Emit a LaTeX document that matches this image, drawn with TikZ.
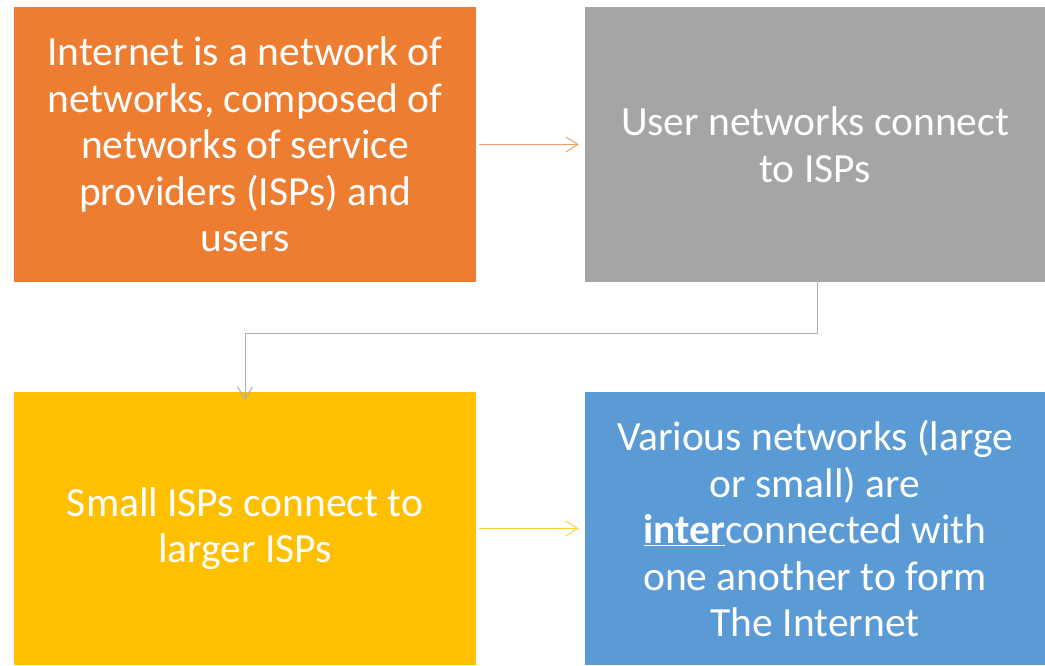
\documentclass[tikz,border=0pt]{standalone}
\usepackage{fontspec}
\setmainfont{Carlito}
\usetikzlibrary{arrows.meta}
\definecolor{corange}{HTML}{ED7D31}
\definecolor{cgray}{HTML}{A5A5A5}
\definecolor{cyellow}{HTML}{FFC000}
\definecolor{cblue}{HTML}{5B9BD5}
\begin{document}
\begin{tikzpicture}[x=1pt,y=-1pt,
  box/.style={minimum width=462pt,minimum height=275pt,inner sep=0pt,
    text=white,align=center,font=\fontsize{41.5}{46.5}\selectfont},
  conn/.style={line width=1pt,-{Straight Barb[length=12pt,width=15pt]}}]
\useasboundingbox (0,0) rectangle (1045,665);
\node[box,fill=corange] (a) at (245,144.5) {Internet is a network of\\networks, composed of\\networks of service\\providers (ISPs) and\\users};
\node[box,fill=cgray,minimum width=460pt] (b) at (815,144.5) {User networks connect\\to ISPs};
\node[box,fill=cyellow,minimum height=273pt] (c) at (245,528.5) {Small ISPs connect to\\larger ISPs};
\node[box,fill=cblue,minimum width=460pt,minimum height=273pt] (d) at (815,528.5) {Various networks (large\\or small) are\\\underline{\textbf{inter}}connected with\\one another to form\\The Internet};
\draw[conn,draw=corange!75] (a.east) ++(3pt,0) -- ([xshift=-6pt]b.west);
\draw[conn,draw=cyellow!75] (c.east) ++(3pt,0) -- ([xshift=-6pt]d.west);
\draw[conn,draw=cgray!90] ([xshift=2pt,yshift=3pt]b.south) -- ++(0,54) -| ([yshift=-8pt]c.north);
\end{tikzpicture}
\end{document}
